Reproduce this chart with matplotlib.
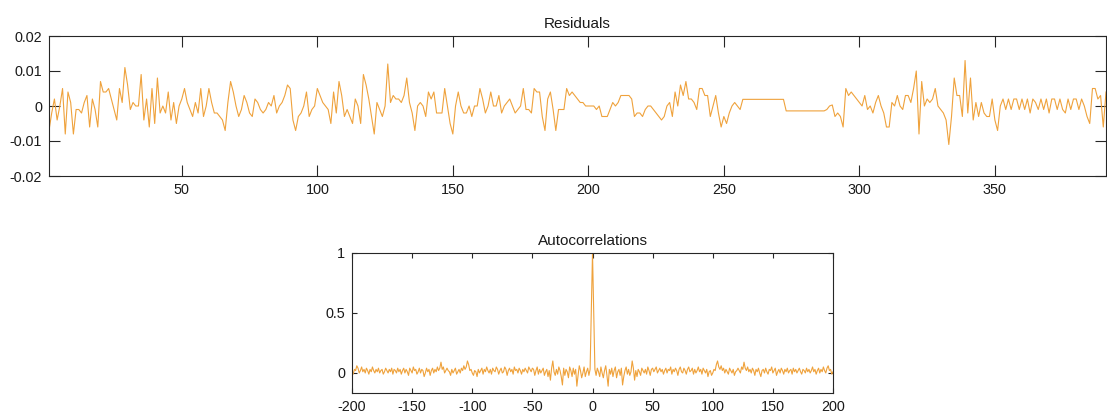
import matplotlib
matplotlib.use("Agg")
import matplotlib.pyplot as plt
import numpy as np

plt.rcParams['font.family'] = ['Liberation Sans', 'DejaVu Sans']
plt.rcParams['axes.unicode_minus'] = False

# Residuals (in units of 1e-3), samples 1..391
residuals_milli = [
    -7, -2, 2, -4, 0, 5, -8, 4, 1, -8,
    -1, -1, -2, 1, 3, -6, 2, -1, -6, 7,
    4, 4, 5, 2, -1, -4, 5, 1, 11, 6,
    -1, 1, 0, 0, 9, -4, 2, -6, 5, -5,
    8, -2, 0, -2, 4, -4, 1, -5, 0, 2,
    5, 1, -1, -3, 1, -2, 5, -3, 0, 5,
    1, -2, -2, -3, -4, -7, 1, 7, 4, 0,
    -3, -1, 3, 1, -2, -3, 2, 1, -1, -2,
    -1, 1, 0, 3, -2, 0, 1, 3, 6, 5,
    -4, -7, -3, -2, 0, 4, -3, -1, 0, 5,
    3, 1, 0, -1, -5, 4, -2, 7, 3, -3,
    -1, -3, -5, 2, 0, -5, 9, 6, 2, -3,
    -8, 1, -1, -3, 0, 12, 1, 3, 2, 2,
    1, 3, 8, 1, -2, -7, 0, 1, 0, -3,
    4, 2, 4, -2, -2, -2, 5, 0, -5, -8,
    0, 4, 0, -2, -2, 0, -3, 0, 0, 5,
    2, -2, 0, 4, 0, 0, 3, -2, 0, 1,
    2, 0, -2, -1, 0, 5, -1, -1, -2, 5,
    4, 4, -3, -7, 2, 4, -1, -7, -1, -1,
    -1, 5, 3, 4, 3, 2, 1, 1, 0, 0,
    0, 0, -1, 0, -3, -3, -3, -1, 1, 0,
    1, 3, 3, 3, 3, 2, -3, -2, -2, -3,
    -1, 0, 0, -1, -2, -3, -4, -3, 0, 1,
    -3, 4, 0, 6, 3, 7, 2, 2, 1, -1,
    5, 5, 3, 3, -3, 0, 3, -2, -6, -3,
    -5, -2, 0, 1, 0, -1, 1.9, 1.9, 1.9, 1.9,
    1.9, 1.9, 1.9, 1.9, 1.9, 1.9, 1.9, 1.9, 1.9, 1.9,
    1.9, 1.9, -1.4, -1.4, -1.4, -1.4, -1.4, -1.4, -1.4, -1.4,
    -1.4, -1.4, -1.4, -1.4, -1.4, -1.4, -1.4, -1, 0, 0.3,
    -3, -2, -3, -6, 5, 3, 4, 3, 2, 1,
    0, 3, -1, 0, -2, 1, 3, 0, -2, -6,
    -6, 1, 0, 3, 0, -1, 3, 3, 1, 5,
    10, -8, 7, 0, 2, 1, 2, 5, 0, -1,
    -2, -4, -11, -3, 8, 3, 3, -3, 13, -2,
    8, -4, 1, -3, 1, -2, -3, -3, 2, -4,
    -7, 0, 2, -1, 2, -1, 2, 2, -1, 2,
    -1, 2, -2, 2, 1, -1, 2, -1, 2, -2,
    2, 2, -1, 2, -1, -2, 2, -1, 2, 2,
    -1, 2, 0, -3, -5, 5, 5, 2, 3, -6, 4,
]

# Autocorrelation (in hundredths) for lags 1..200; lag 0 = 1, symmetric in lag
acf_pos_hundredths = [
    50, 3, -2, 4, 1, -3, 5, 0, -4, 2,
    6, -2, -11, 3, -1, 4, -3, 2, 5, -4,
    1, 3, -2, 4, -10, -3, 2, 5, -1, 3,
    -2, 1, 10, 4, -6, 2, -3, 3, 1, -2,
    4, 2, 0, 3, -1, 5, 2, -2, 3, 4,
    1, 3, 5, 0, 2, 4, 1, 3, -1, 2,
    4, 0, 3, 2, 5, -1, 3, 1, 4, 2,
    -2, 3, 5, 1, 0, 4, 2, -1, 3, 5,
    1, 2, 4, -1, 3, 0, 2, 5, 1, 3,
    -1, 4, 2, 0, 3, -3, 1, 2, -2, 0,
    3, 2, 7, 10, 5, 3, 6, 2, 4, 0,
    3, 1, -1, 4, 2, 0, 3, -2, 1, 2,
    4, 2, 0, 5, 3, 9, 4, 2, 5, 1,
    3, 0, 4, 2, -2, 3, 1, 4, 0, -3,
    2, 3, 0, 4, 1, -1, 3, 2, 5, 0,
    2, 4, -2, 1, 3, 0, 4, 2, -1, 3,
    1, 4, 0, 2, 3, -1, 4, 1, 3, 0,
    2, 4, 1, -1, 3, 2, 0, 4, 1, 3,
    0, 2, 5, 1, 3, -1, 2, 4, 0, 3,
    1, 5, 2, 0, 4, 6, 2, 3, -1, 1,
]

res = np.array(residuals_milli) / 1000.0
samples = np.arange(1, len(res) + 1)
pos = np.array(acf_pos_hundredths) / 100.0
acf = np.concatenate([pos[::-1], [1.0], pos])
lags = np.arange(-len(pos), len(pos) + 1)

line_color = '#EFA23C'
text_color = '#1a1a1a'
W, H = 1107, 412
fig = plt.figure(figsize=(W / 100, H / 100), dpi=100)

def px_axes(l, t, r, b):
    return fig.add_axes([l / W, 1 - b / H, (r - l) / W, (b - t) / H])

ax1 = px_axes(49, 36, 1106, 176)
ax1.plot(samples, res, color=line_color, lw=0.8)
ax1.set_xlim(1, len(res))
ax1.set_ylim(-0.02, 0.02)
ax1.set_xticks([50, 100, 150, 200, 250, 300, 350])
ax1.set_yticks([-0.02, -0.01, 0, 0.01, 0.02])
ax1.set_yticklabels(['-0.02', '-0.01', '0', '0.01', '0.02'])
ax1.set_title('Residuals', fontsize=11, color=text_color, pad=6)

ax2 = px_axes(352, 253, 833, 393)
ax2.plot(lags, acf, color=line_color, lw=0.8)
ax2.set_xlim(-200, 200)
ax2.set_ylim(-0.167, 1)
ax2.set_xticks([-200, -150, -100, -50, 0, 50, 100, 150, 200])
ax2.set_yticks([0, 0.5, 1])
ax2.set_yticklabels(['0', '0.5', '1'])
ax2.set_title('Autocorrelations', fontsize=11, color=text_color, pad=6)

for ax, tl in ((ax1, 7.8), (ax2, 3.5)):
    ax.tick_params(direction='in', length=tl, width=0.8, top=True, right=True,
                   labelsize=10.4, labelcolor=text_color, color='#262626', pad=5)
    for s in ax.spines.values():
        s.set_color('#262626')
        s.set_linewidth(0.8)

fig.savefig('out.png', dpi=100)
